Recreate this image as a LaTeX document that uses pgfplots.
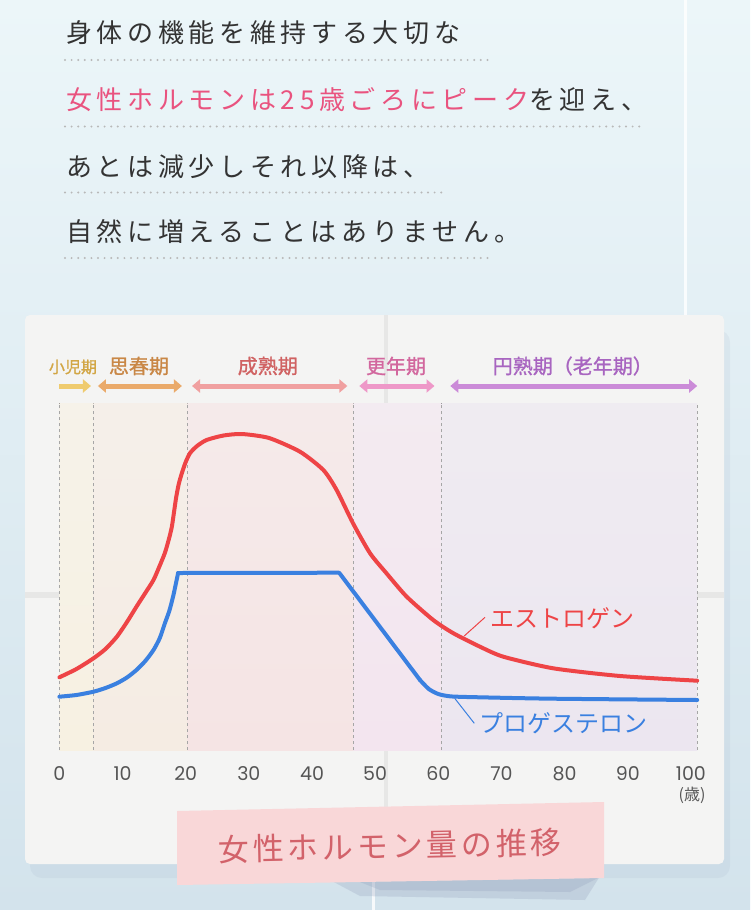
\documentclass[border=0pt]{standalone}
\usepackage{pgfplots}
\pgfplotsset{compat=1.18}
\usetikzlibrary{arrows.meta}
\usepackage{fontspec}
\setmainfont{Noto Sans CJK JP}
\newfontfamily\jp{Noto Sans CJK JP}
\newfontfamily\jpb{Noto Sans CJK JP}[FakeBold=1.2]
\newfontfamily\jpls{Noto Sans CJK JP}[LetterSpace=18]
\newfontfamily\jpbox{Noto Sans CJK JP}[LetterSpace=12]
\newfontfamily\num{Poppins}
\definecolor{bgtop}{HTML}{ECF6F9}
\definecolor{bgbot}{HTML}{D3E3EC}
\definecolor{card}{HTML}{F4F4F3}
\definecolor{txt}{HTML}{333333}
\definecolor{pinktxt}{HTML}{E9537F}
\definecolor{dotc}{HTML}{B8B8B8}
\definecolor{estro}{HTML}{EE4446}
\definecolor{proge}{HTML}{3A80E0}
\definecolor{tickc}{HTML}{555555}
\definecolor{bA}{HTML}{F7F1E2}
\definecolor{bB}{HTML}{F5ECE3}
\definecolor{bC}{HTML}{F5E4E4}
\definecolor{bD}{HTML}{F3E5EF}
\definecolor{bE}{HTML}{ECE6F0}
\definecolor{aA}{HTML}{EFCB6E}
\definecolor{aB}{HTML}{EAAA6A}
\definecolor{aC}{HTML}{F0A0A0}
\definecolor{aD}{HTML}{EE98C8}
\definecolor{aE}{HTML}{CB8BD8}
\definecolor{lA}{HTML}{D2A645}
\definecolor{lB}{HTML}{C98746}
\definecolor{lC}{HTML}{D06262}
\definecolor{lD}{HTML}{D2679E}
\definecolor{lE}{HTML}{A865C0}
\definecolor{boxc}{HTML}{F9D7D8}
\definecolor{boxt}{HTML}{D2626A}
\definecolor{shad}{HTML}{8E9AB8}
\begin{document}
\begin{tikzpicture}
\begin{scope}[x=1pt,y=-1pt]
\fill[top color=bgtop,bottom color=bgbot] (0,0) rectangle (750,910);
\fill[white,opacity=0.8] (684,0) rectangle (687,316);
\fill[white,opacity=0.8] (372,864) rectangle (375,910);
\fill[shad,opacity=0.10,rounded corners=12pt] (30,330) rectangle (730,878);
\fill[card, rounded corners=5pt] (25,315) rectangle (724,864);
\draw[black,opacity=0.05,line width=6pt] (25,595) -- (724,595);
\draw[black,opacity=0.05,line width=4pt] (386,315) -- (386,864);
% header text
\node[anchor=west, font=\jpls\fontsize{26}{30}\selectfont, text=txt, inner sep=0] at (66,33) {身体の機能を維持する大切な};
\node[anchor=west, font=\jpls\fontsize{26}{30}\selectfont, text=txt, inner sep=0] at (66,100) {\textcolor{pinktxt}{女性ホルモンは25歳ごろにピーク}を迎え、};
\node[anchor=west, font=\jpls\fontsize{26}{30}\selectfont, text=txt, inner sep=0] at (66,167) {あとは減少しそれ以降は、};
\node[anchor=west, font=\jpls\fontsize{26}{30}\selectfont, text=txt, inner sep=0] at (66,232) {自然に増えることはありません。};
\draw[dotc, line width=2.2pt, line cap=round, dash pattern=on 0pt off 6.6pt] (65,60) -- (490,60);
\draw[dotc, line width=2.2pt, line cap=round, dash pattern=on 0pt off 6.6pt] (65,126.5) -- (642,126.5);
\draw[dotc, line width=2.2pt, line cap=round, dash pattern=on 0pt off 6.6pt] (65,192.5) -- (442,192.5);
\draw[dotc, line width=2.2pt, line cap=round, dash pattern=on 0pt off 6.6pt] (65,258) -- (490,258);
\end{scope}

\begin{axis}[at={(59.4pt,-750pt)}, anchor=south west, scale only axis,
  width=637.8pt, height=430pt, xmin=0, xmax=101, ymin=0, ymax=430,
  axis line style={draw=none}, major tick style={draw=none}, ytick=\empty,
  xtick={0,10,...,100},
  /pgf/number format/assume math mode=true,
  xticklabel style={font=\num\fontsize{19}{21}\selectfont, text=tickc, anchor=base, yshift=-30pt},
  clip=false]
% bands
\fill[top color=bA!60!card, bottom color=bA] (axis cs:0,0) rectangle (axis cs:5.4,347);
\fill[top color=bB!60!card, bottom color=bB] (axis cs:5.4,0) rectangle (axis cs:20.3,347);
\fill[top color=bC!60!card, bottom color=bC] (axis cs:20.3,0) rectangle (axis cs:46.6,347);
\fill[top color=bD!60!card, bottom color=bD] (axis cs:46.6,0) rectangle (axis cs:60.5,347);
\fill[top color=bE!60!card, bottom color=bE] (axis cs:60.5,0) rectangle (axis cs:101,347);
% dashed lines
\foreach \xx in {0,5.4,20.3,46.6,60.5,101}{
  \edef\tmp{\noexpand\draw[gray!70, line width=0.7pt, dash pattern=on 3pt off 3pt] (axis cs:\xx,0) -- (axis cs:\xx,347);}
  \tmp
}
% phase arrows
\draw[aA, line width=5pt, -{Triangle[width=13pt,length=8pt]}] (axis cs:0,364) -- (axis cs:5.0,364);
\draw[aB, line width=5pt, {Triangle[width=13pt,length=8pt]}-{Triangle[width=13pt,length=8pt]}] (axis cs:6.1,364) -- (axis cs:19.4,364);
\draw[aC, line width=5pt, {Triangle[width=13pt,length=8pt]}-{Triangle[width=13pt,length=8pt]}] (axis cs:21,364) -- (axis cs:45.6,364);
\draw[aD, line width=5pt, {Triangle[width=13pt,length=8pt]}-{Triangle[width=13pt,length=8pt]}] (axis cs:47.5,364) -- (axis cs:59.4,364);
\draw[aE, line width=5pt, {Triangle[width=13pt,length=8pt]}-{Triangle[width=13pt,length=8pt]}] (axis cs:61.9,364) -- (axis cs:101,364);
\node[font=\jpb\fontsize{16}{18}\selectfont, text=lA] at (axis cs:2.15,383) {小児期};
\node[font=\jpb\fontsize{20}{22}\selectfont, text=lB] at (axis cs:12.6,384) {思春期};
\node[font=\jpb\fontsize{20}{22}\selectfont, text=lC] at (axis cs:33.0,384) {成熟期};
\node[font=\jpb\fontsize{20}{22}\selectfont, text=lD] at (axis cs:53.3,384) {更年期};
\node[font=\jpb\fontsize{20}{22}\selectfont, text=lE] at (axis cs:81.3,384) {円熟期（老年期）};
% estrogen
\addplot[estro, line width=4pt, smooth, tension=0.4, line cap=round] coordinates {
(0,72.7) (2.7,81) (5.4,91.7) (7.3,101) (9.1,113.3) (10.7,128) (12.2,143.3) (13.6,157)
(14.9,170) (15.8,183) (16.7,197) (17.3,210) (17.8,223) (18.2,240) (18.5,253) (18.9,266)
(19.4,277) (20,288) (20.7,297) (21.8,304) (23.3,310) (26,314.5) (28.9,316) (33.2,312)
(38.1,298.3) (41.8,280) (43.9,260) (46.5,226.7) (49.2,196.7) (51.8,176.7) (55.0,153.3)
(59.2,130) (62.4,116.7) (66.6,103.3) (70.3,93.3) (78.2,81.7) (88.8,74) (101,69.3)};
% progesterone
\addplot[proge, line width=4pt, smooth, tension=0.4, line cap=round] coordinates {
(0,53.3) (2.7,55) (5.4,58.3) (7.3,62) (9.1,66.7) (10.7,72.5) (12.2,80) (13.6,89)
(14.9,100) (15.9,112) (16.7,126.7) (17.4,139) (18.0,153.3) (18.4,165) (18.8,177)};
\addplot[proge, line width=4pt, line cap=round, line join=round] coordinates {
(18.8,177) (44.3,177.3) (57.1,70)};
\addplot[proge, line width=4pt, smooth, tension=0.4, line cap=round] coordinates {
(57.1,70) (58.5,61) (60,56) (62,53.6) (66.6,52.7) (78.2,51.3) (101,50)};
% labels
\draw[estro, line width=1pt] (axis cs:67.4,132.7) -- (axis cs:64.1,114);
\node[font=\jp\fontsize{24}{26}\selectfont, text=estro] at (axis cs:79.6,132) {エストロゲン};
\draw[proge, line width=1pt] (axis cs:62.6,51.7) -- (axis cs:65.7,26.7);
\node[font=\jp\fontsize{24}{26}\selectfont, text=proge] at (axis cs:79.8,27) {プロゲステロン};
\node[font=\jp\fontsize{16}{18}\selectfont, text=tickc] at (axis cs:100.2,-45) {(歳)};
\end{axis}

\begin{scope}[x=1pt,y=-1pt]
\fill[shad,opacity=0.25] (330,880) -- (600,876) -- (585,900) -- (360,896) -- cycle;
\fill[shad,opacity=0.25] (360,882) -- (598,878) -- (570,892) -- (380,890) -- cycle;
\fill[boxc] (177,811) -- (604,802) -- (604,878) -- (177,885) -- cycle;
\node[font=\jpbox\fontsize{31}{34}\selectfont, text=boxt, rotate=1.2] at (390,846) {女性ホルモン量の推移};
\end{scope}
\pgfresetboundingbox
\path[use as bounding box] (0,0) rectangle (750pt,-910pt);
\end{tikzpicture}
\end{document}
